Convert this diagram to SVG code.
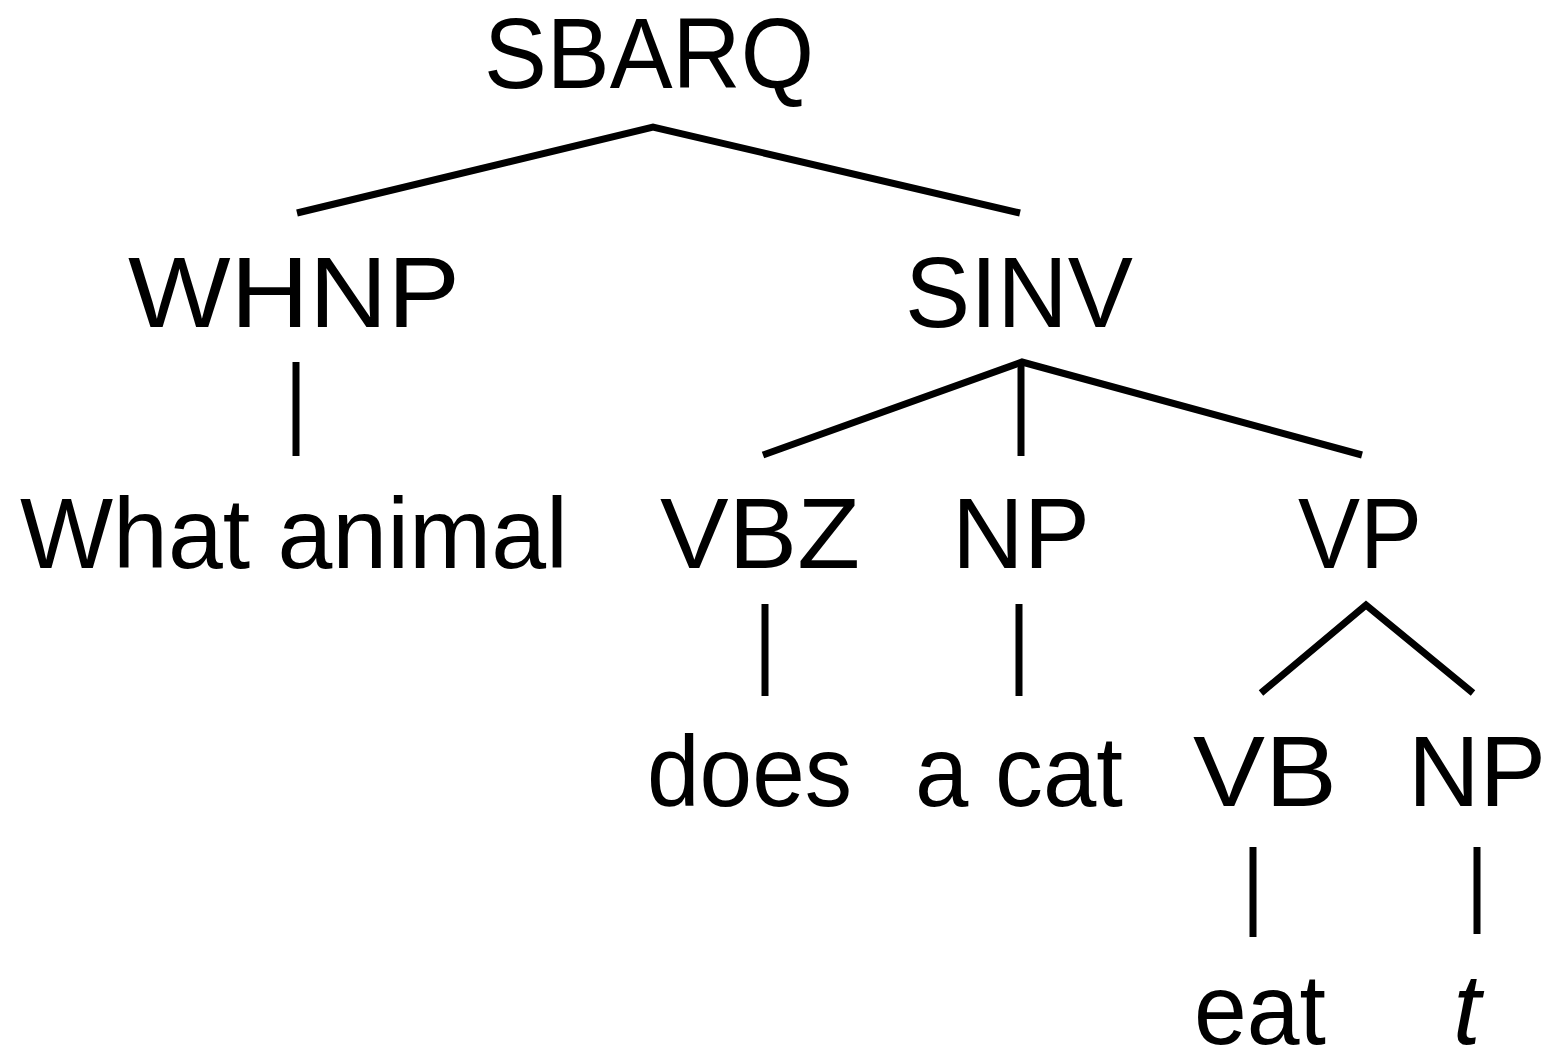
<svg xmlns="http://www.w3.org/2000/svg" width="1551" height="1054" viewBox="0 0 1551 1054">
<style>
text{font-family:"Liberation Sans",Arial,sans-serif;font-size:100px;fill:#000}
.it{font-style:italic}
.e{stroke:#000;stroke-width:7;fill:none;stroke-linejoin:miter}
</style>
<rect width="1551" height="1054" fill="#fff"/>
<g id="connectors">
<polyline class="e" points="297,213 653,127 1020,213"/>
<line class="e" x1="296" y1="362" x2="296" y2="456"/>
<polyline class="e" points="763,455 1022,362 1362,455"/>
<line class="e" x1="1021" y1="362" x2="1021" y2="456"/>
<line class="e" x1="765" y1="604" x2="765" y2="696"/>
<line class="e" x1="1019" y1="604" x2="1019" y2="696"/>
<polyline class="e" points="1261,693 1366,605 1473,693"/>
<line class="e" x1="1253" y1="847" x2="1253" y2="937"/>
<line class="e" x1="1477" y1="847" x2="1477" y2="934"/>
</g>
<g id="sbarq"><text x="484" y="88" textLength="330" lengthAdjust="spacingAndGlyphs">SBARQ</text></g>
<g id="whnp"><text x="128" y="327" textLength="332" lengthAdjust="spacingAndGlyphs">WHNP</text></g>
<g id="sinv"><text x="905" y="327" textLength="228" lengthAdjust="spacingAndGlyphs">SINV</text></g>
<g id="what-animal"><text x="20" y="568" textLength="548" lengthAdjust="spacingAndGlyphs">What animal</text></g>
<g id="vbz"><text x="660" y="568" textLength="200" lengthAdjust="spacingAndGlyphs">VBZ</text></g>
<g id="np1"><text x="952" y="568" textLength="138" lengthAdjust="spacingAndGlyphs">NP</text></g>
<g id="vp"><text x="1298" y="568" textLength="124" lengthAdjust="spacingAndGlyphs">VP</text></g>
<g id="does"><text x="647" y="806" textLength="205" lengthAdjust="spacingAndGlyphs">does</text></g>
<g id="a-cat"><text x="915" y="806" textLength="208" lengthAdjust="spacingAndGlyphs">a cat</text></g>
<g id="vb"><text x="1193" y="806" textLength="144" lengthAdjust="spacingAndGlyphs">VB</text></g>
<g id="np2"><text x="1408" y="806" textLength="138" lengthAdjust="spacingAndGlyphs">NP</text></g>
<g id="eat"><text x="1194" y="1044" textLength="132" lengthAdjust="spacingAndGlyphs">eat</text></g>
<g id="t"><text class="it" x="1453" y="1044">t</text></g>
</svg>
